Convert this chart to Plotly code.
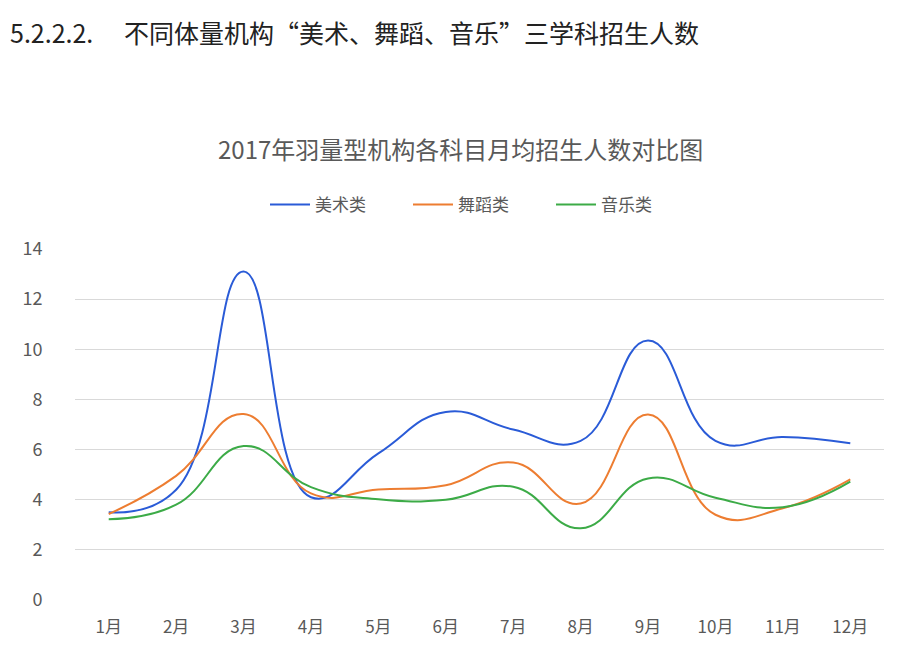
import plotly.graph_objects as go

# data
months = ['1月', '2月', '3月', '4月', '5月', '6月', '7月', '8月', '9月', '10月', '11月', '12月']
art = [3.5, 4.4, 13.1, 4.1, 5.85, 7.5, 6.8, 6.35, 10.35, 6.35, 6.5, 6.25]
dance = [3.43, 4.95, 7.42, 4.25, 4.41, 4.58, 5.48, 3.85, 7.4, 3.4, 3.66, 4.81]
music = [3.22, 3.8, 6.14, 4.5, 4.02, 4.0, 4.52, 2.86, 4.85, 4.08, 3.7, 4.72]

series = [('美术类', art, '#2a5bd7'), ('舞蹈类', dance, '#ed7d31'), ('音乐类', music, '#3cab47')]

fig = go.Figure()
for name, vals, color in series:
    fig.add_trace(go.Scatter(
        x=months, y=vals, name=name, mode='lines',
        line=dict(color=color, width=2, shape='spline', smoothing=1.3),
    ))

font_cjk = 'Noto Sans CJK SC'

# page body adds ~8px offset, so the figure is laid out 8px up/left
W, H = 898, 634
fig.update_layout(
    width=W, height=H,
    paper_bgcolor='white', plot_bgcolor='white',
    margin=dict(l=67, r=22, t=241, b=42),
    font=dict(family=font_cjk, color='#595959'),
    showlegend=True,
    legend=dict(
        orientation='h', x=0.5, xanchor='center',
        yref='container', y=1 - 197 / H, yanchor='middle',
        font=dict(size=17, color='#595959'), itemwidth=40,
        entrywidth=88, entrywidthmode='pixels',
    ),
    xaxis=dict(
        range=[-0.5, 11.5], automargin=False,
        showgrid=False, showline=False, zeroline=False,
        ticks='outside', ticklen=12, tickcolor='rgba(0,0,0,0)',
        tickfont=dict(size=17, color='#595959'),
    ),
    yaxis=dict(
        range=[0, 14], dtick=2, automargin=False,
        showgrid=True, gridcolor='#d9d9d9', gridwidth=1,
        zeroline=False, showline=False,
        ticks='outside', ticklen=28, tickcolor='rgba(0,0,0,0)',
        tickfont=dict(size=18, color='#595959'),
    ),
    annotations=[
        dict(text='5.2.2.2.\u3000 不同体量机构“美术、舞蹈、音乐”三学科招生人数',
             xref='paper', yref='paper', x=-67 / 351 * 0 - 67 / 809, y=1 + (241 - 24) / 351,
             xanchor='left', yanchor='middle', showarrow=False,
             font=dict(size=25, color='#222222', family=font_cjk)),
        dict(text='2017年羽量型机构各科目月均招生人数对比图',
             xref='paper', yref='paper', x=(460 - 75) / 809, y=1 + (241 - 140) / 351,
             xanchor='center', yanchor='middle', showarrow=False,
             font=dict(size=24, color='#595959', family=font_cjk)),
    ],
)

fig.write_html('out.html')
